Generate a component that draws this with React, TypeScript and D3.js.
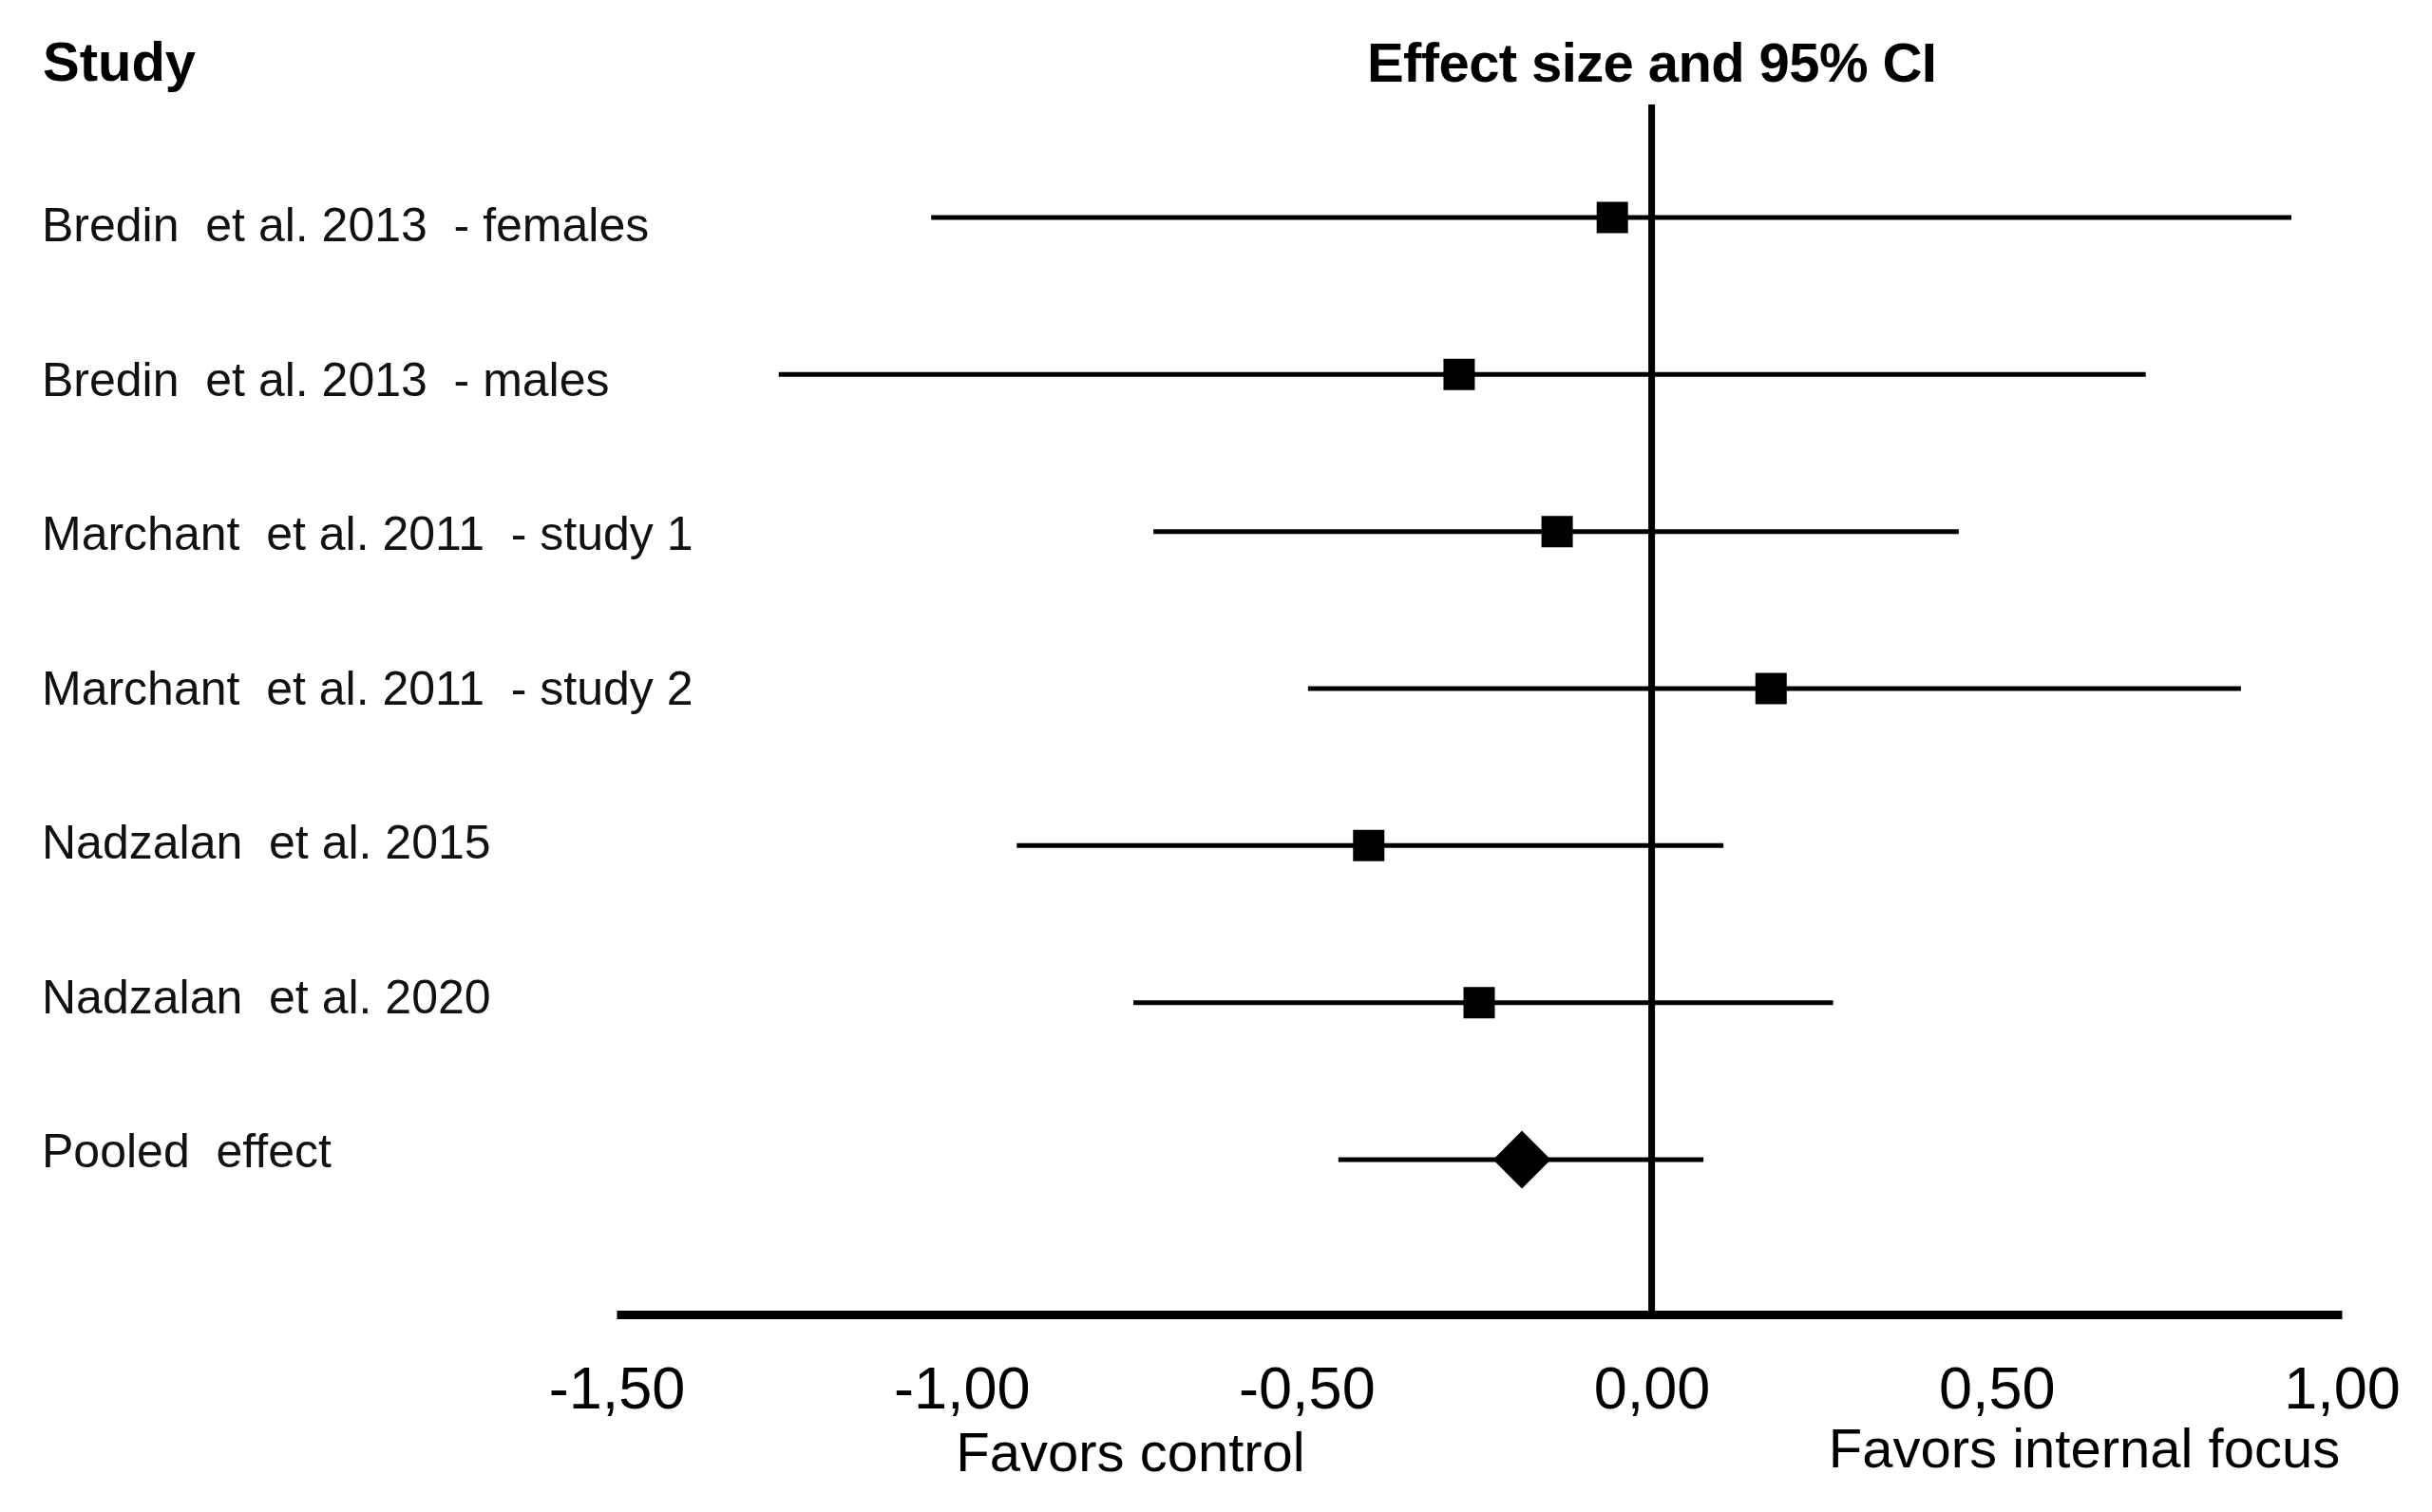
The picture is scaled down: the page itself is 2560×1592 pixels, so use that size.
import { useEffect, useRef } from 'react';
import * as d3 from "d3";

// Studies, top to bottom
const studies = [
  "Bredin  et al. 2013  - females",
  "Bredin  et al. 2013  - males",
  "Marchant  et al. 2011  - study 1",
  "Marchant  et al. 2011  - study 2",
  "Nadzalan  et al. 2015",
  "Nadzalan  et al. 2020",
  "Pooled  effect",
];
const effects = [-0.057, -0.279, -0.137, 0.173, -0.41, -0.25, -0.188];
const lowerCI = [-1.044, -1.265, -0.722, -0.498, -0.92, -0.751, -0.454];
const upperCI = [0.927, 0.716, 0.445, 0.854, 0.104, 0.263, 0.075];
const pooledIndex = 6;

const tickValues = [-1.5, -1.0, -0.5, 0, 0.5, 1.0];
const leftFavor = "Favors control";
const rightFavor = "Favors internal focus";

const font = "'Liberation Sans', Arial, Helvetica, sans-serif";

export default function App() {
  const chartRef = useRef<SVGSVGElement>(null);

  useEffect(() => {
    if (!chartRef.current) return;
    d3.select(chartRef.current).selectAll("*").remove();

    const width = 2560;
    const height = 1592;
    const axisY = 1384;

    const x = d3.scaleLinear().domain([-1.5, 1.0]).range([649, 2465]);
    const y = d3.scalePoint<number>()
      .domain(d3.range(studies.length))
      .range([229, 1221]);
    // label baselines sit a bit below the lines
    const yLabel = d3.scalePoint<number>()
      .domain(d3.range(studies.length))
      .range([254, 1229]);

    // comma decimals, plain hyphen for minus
    const locale = d3.formatLocale({ decimal: ",", thousands: ".", grouping: [3], currency: ["", ""], minus: "-" });
    const fmt = locale.format(".2f");

    const svg = d3.select(chartRef.current)
      .attr("viewBox", [0, 0, width, height])
      .attr("width", width)
      .attr("height", height)
      .style("font-family", font);

    svg.append("rect").attr("width", width).attr("height", height).attr("fill", "#fff");

    // Headers
    svg.append("text")
      .attr("x", 45).attr("y", 85)
      .attr("font-size", 58).attr("font-weight", "bold")
      .text("Study");

    svg.append("text")
      .attr("x", x(0)).attr("y", 86)
      .attr("text-anchor", "middle")
      .attr("font-size", 58).attr("font-weight", "bold")
      .attr("letter-spacing", -0.6)
      .text("Effect size and 95% CI");

    // Study labels
    svg.append("g")
      .selectAll("text")
      .data(studies)
      .join("text")
      .attr("x", 44)
      .attr("y", (_, i) => yLabel(i) || 0)
      .attr("font-size", 50)
      .attr("fill", "#111")
      .style("white-space", "pre")
      .text(d => d);

    // Zero line
    svg.append("line")
      .attr("x1", x(0)).attr("x2", x(0))
      .attr("y1", 110).attr("y2", axisY)
      .attr("stroke", "#000").attr("stroke-width", 7);

    // CI lines
    svg.append("g")
      .attr("stroke", "#000")
      .attr("stroke-width", 5)
      .selectAll("line")
      .data(studies)
      .join("line")
      .attr("x1", (_, i) => x(lowerCI[i]))
      .attr("x2", (_, i) => x(upperCI[i]))
      .attr("y1", (_, i) => y(i) || 0)
      .attr("y2", (_, i) => y(i) || 0);

    // Markers
    const square = d3.symbol(d3.symbolSquare, 33 * 33);
    const diamond = d3.symbol(d3.symbolSquare, 43 * 43);
    svg.append("g")
      .selectAll("path")
      .data(effects)
      .join("path")
      .attr("d", (_, i) => (i === pooledIndex ? diamond() : square()) || "")
      .attr("transform", (d, i) =>
        `translate(${x(d)},${y(i)})` + (i === pooledIndex ? " rotate(45)" : ""))
      .attr("fill", "#000");

    // X axis
    svg.append("g")
      .attr("transform", `translate(0,${axisY})`)
      .call(d3.axisBottom(x).tickValues(tickValues).tickSize(0).tickFormat(d => fmt(+d)))
      .call(g => g.select(".domain").attr("stroke", "#000").attr("stroke-width", 9))
      .call(g => g.selectAll(".tick text")
        .attr("dy", null)
        .attr("y", 99)
        .attr("fill", "#000")
        .attr("font-size", 63)
        .attr("font-family", font));

    // Direction labels
    svg.append("text")
      .attr("x", 1190).attr("y", 1549)
      .attr("text-anchor", "middle")
      .attr("font-size", 58)
      .text(leftFavor);

    svg.append("text")
      .attr("x", 2194).attr("y", 1545)
      .attr("text-anchor", "middle")
      .attr("font-size", 58)
      .text(rightFavor);
  }, []);

  return (
    <div style={{ position: "absolute", left: 0, top: 0 }}>
      <svg ref={chartRef}></svg>
    </div>
  );
}
